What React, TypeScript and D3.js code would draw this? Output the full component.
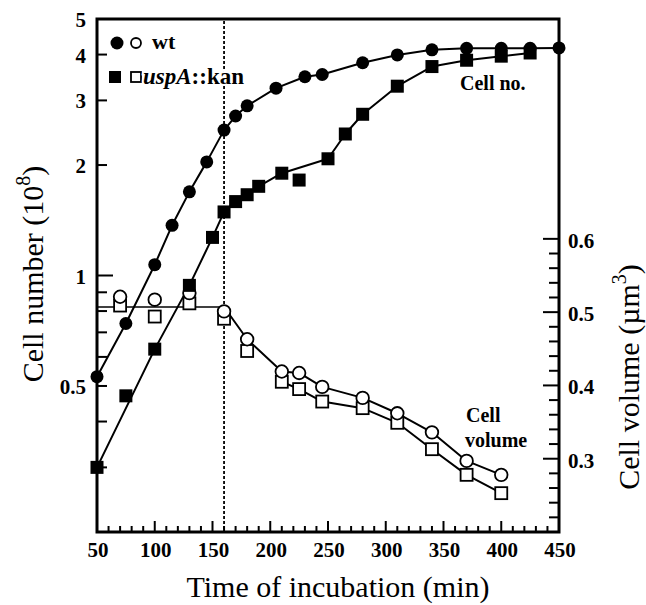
import React, { useEffect, useRef } from 'react'
import * as d3 from 'd3'

// cell number (10^8), log scale
const wtTimes = [50, 75, 100, 115, 130, 145, 160, 170, 180, 205, 230, 245, 280, 310, 340, 370, 400, 425, 450]
const wtCells = [0.53, 0.74, 1.07, 1.37, 1.69, 2.04, 2.49, 2.72, 2.9, 3.24, 3.48, 3.53, 3.8, 3.99, 4.12, 4.16, 4.16, 4.16, 4.17]
const mutTimes = [50, 75, 100, 130, 150, 160, 170, 180, 190, 210, 225, 250, 265, 280, 310, 340, 370, 400, 425]
const mutCells = [0.3, 0.47, 0.63, 0.94, 1.27, 1.49, 1.59, 1.66, 1.75, 1.9, 1.82, 2.08, 2.43, 2.75, 3.28, 3.71, 3.86, 3.96, 4.04]
const mutOffCurve = [75, 225]

// cell volume (um^3)
const volTimes = [70, 100, 130, 160, 180, 210, 225, 245, 280, 310, 340, 370, 400]
const wtVolume = [0.521, 0.517, 0.526, 0.501, 0.463, 0.419, 0.417, 0.398, 0.383, 0.362, 0.336, 0.297, 0.278]
const mutVolume = [0.509, 0.494, 0.512, 0.491, 0.447, 0.405, 0.395, 0.378, 0.369, 0.349, 0.313, 0.278, 0.253]
const plateauVolume = 0.507
const plateauTimes = [50, 160]
const mutVolLineFrom = 210
const shiftTime = 160

const xTicks = [50, 100, 150, 200, 250, 300, 350, 400, 450]
const cellTicks = [0.5, 1, 2, 3, 4, 5]
const cellMinor = [0.3, 0.4, 0.6, 0.7, 0.8, 0.9]
const volTicks = [0.3, 0.4, 0.5, 0.6]

const FONT = 'Liberation Serif, Times New Roman, Times, DejaVu Serif, serif'

export default function App() {
  const ref = useRef<SVGSVGElement>(null)

  useEffect(() => {
    const svg = d3.select(ref.current)
    svg.selectAll('*').remove()

    const left = 97, right = 559, top = 19, bottom = 532

    const x = d3.scaleLinear().domain([50, 450]).range([left, right])
    const yN = d3.scaleLog().domain([0.2, 5]).range([bottom, top])
    const yV = d3.scaleLinear().domain([0.2, 0.9]).range([bottom, top])

    const axes = svg.append('g').attr('stroke', '#000').attr('fill', 'none')

    // frame
    axes.append('rect')
      .attr('x', left).attr('y', top)
      .attr('width', right - left).attr('height', bottom - top)
      .attr('stroke-width', 3)

    // x ticks (inward)
    d3.range(60, 450, 10).forEach(t => {
      const major = t % 50 === 0
      axes.append('line')
        .attr('x1', x(t)).attr('x2', x(t))
        .attr('y1', bottom).attr('y2', bottom - (major ? 11 : 6))
        .attr('stroke-width', 2)
    })

    // left ticks
    cellTicks.concat(cellMinor).filter(v => v < 5).forEach(v => {
      axes.append('line')
        .attr('x1', left).attr('x2', left + (v === 1 ? 16 : 10))
        .attr('y1', yN(v)).attr('y2', yN(v))
        .attr('stroke-width', 2)
    })

    // right ticks
    d3.range(11, 31).map(i => i * 0.02).forEach(v => {
      const major = Math.abs(v * 10 - Math.round(v * 10)) < 1e-6
      axes.append('line')
        .attr('x1', right).attr('x2', right - (major ? 16 : 10))
        .attr('y1', yV(v)).attr('y2', yV(v))
        .attr('stroke-width', 2)
    })

    const txt = svg.append('g')
      .style('font-family', FONT)
      .attr('font-weight', 'bold')
      .attr('font-size', 21)
      .attr('fill', '#000')

    xTicks.forEach(t => {
      txt.append('text')
        .attr('x', x(t) + 1).attr('y', 557)
        .attr('text-anchor', 'middle')
        .text(t)
    })
    cellTicks.forEach(v => {
      txt.append('text')
        .attr('x', left - 11).attr('y', yN(v) + 8)
        .attr('text-anchor', 'end')
        .text(v)
    })
    volTicks.forEach(v => {
      txt.append('text')
        .attr('x', right + 9).attr('y', yV(v) + 9)
        .text(v.toFixed(1))
    })

    // axis titles
    const titles = svg.append('g')
      .style('font-family', FONT)
      .attr('font-size', 30)
      .attr('fill', '#000')

    titles.append('text')
      .attr('x', 338).attr('y', 597)
      .attr('text-anchor', 'middle')
      .text('Time of incubation (min)')

    const lt = titles.append('text')
      .attr('transform', 'translate(43,274) rotate(-90)')
      .attr('text-anchor', 'middle')
    lt.append('tspan').text('Cell number (10')
    lt.append('tspan').attr('dy', -13).attr('font-size', 20).text('8')
    lt.append('tspan').attr('dy', 13).text(')')

    const rt = titles.append('text')
      .attr('transform', 'translate(639,377) rotate(-90)')
      .attr('text-anchor', 'middle')
    rt.append('tspan').text('Cell volume (\u00b5m')
    rt.append('tspan').attr('dy', -13).attr('font-size', 20).text('3')
    rt.append('tspan').attr('dy', 13).text(')')

    // shift line
    svg.append('line')
      .attr('x1', x(shiftTime)).attr('x2', x(shiftTime))
      .attr('y1', top + 2).attr('y2', bottom)
      .attr('stroke', '#000')
      .attr('stroke-width', 1.8)
      .attr('stroke-dasharray', '3,2')

    const plot = svg.append('g')

    const cellLine = d3.line<[number, number]>()
      .x(d => x(d[0]))
      .y(d => yN(d[1]))
    const volLine = d3.line<[number, number]>()
      .x(d => x(d[0]))
      .y(d => yV(d[1]))

    const wtPts: [number, number][] = wtTimes.map((t, i) => [t, wtCells[i]])
    const mutPts: [number, number][] = mutTimes.map((t, i) => [t, mutCells[i]])
    const mutCurve = mutPts.filter(p => !mutOffCurve.includes(p[0]))

    const wtVolPts: [number, number][] = volTimes.map((t, i) => [t, wtVolume[i]])
    const mutVolPts: [number, number][] = volTimes.map((t, i) => [t, mutVolume[i]])

    const plateau: [number, number][] = plateauTimes.map(t => [t, plateauVolume])
    const wtVolCurve = [plateau[1]].concat(wtVolPts.filter(p => p[0] > shiftTime))
    const mutVolCurve = mutVolPts.filter(p => p[0] >= mutVolLineFrom)

    const lineStyle = (sel: any, w: number) => sel
      .attr('fill', 'none').attr('stroke', '#000')
      .attr('stroke-width', w).attr('stroke-linejoin', 'round')

    plot.append('path').attr('d', volLine(plateau)).call(lineStyle, 1.6)
    plot.append('path').attr('d', volLine(wtVolCurve)).call(lineStyle, 2)
    plot.append('path').attr('d', volLine(mutVolCurve)).call(lineStyle, 2)
    plot.append('path').attr('d', cellLine(wtPts)).call(lineStyle, 2)
    plot.append('path').attr('d', cellLine(mutCurve)).call(lineStyle, 2)

    // open markers (volume)
    plot.selectAll('.vsq')
      .data(mutVolPts)
      .enter()
      .append('rect')
        .attr('x', d => x(d[0]) - 6)
        .attr('y', d => yV(d[1]) - 6)
        .attr('width', 12).attr('height', 12)
        .attr('fill', '#fff').attr('stroke', '#000').attr('stroke-width', 1.8)
    plot.selectAll('.vci')
      .data(wtVolPts)
      .enter()
      .append('circle')
        .attr('cx', d => x(d[0]))
        .attr('cy', d => yV(d[1]))
        .attr('r', 6.3)
        .attr('fill', '#fff').attr('stroke', '#000').attr('stroke-width', 1.8)

    // filled markers (cell number)
    plot.selectAll('.nsq')
      .data(mutPts)
      .enter()
      .append('rect')
        .attr('x', d => x(d[0]) - 6.5)
        .attr('y', d => yN(d[1]) - 6.5)
        .attr('width', 13).attr('height', 13)
        .attr('fill', '#000')
    plot.selectAll('.nci')
      .data(wtPts)
      .enter()
      .append('circle')
        .attr('cx', d => x(d[0]))
        .attr('cy', d => yN(d[1]))
        .attr('r', 6.5)
        .attr('fill', '#000')

    // legend (drawn last, white halo breaks the dotted line)
    const leg = svg.append('g')
    leg.append('circle').attr('cx', 117).attr('cy', 43).attr('r', 6.5).attr('fill', '#000')
    leg.append('circle').attr('cx', 136).attr('cy', 43).attr('r', 5)
      .attr('fill', '#fff').attr('stroke', '#000').attr('stroke-width', 1.8)
    leg.append('rect').attr('x', 109).attr('y', 71).attr('width', 12).attr('height', 12).attr('fill', '#000')
    leg.append('rect').attr('x', 131).attr('y', 72).attr('width', 10).attr('height', 10)
      .attr('fill', '#fff').attr('stroke', '#000').attr('stroke-width', 1.8)

    const legTxt = leg.append('g')
      .style('font-family', FONT)
      .attr('font-weight', 'bold')
      .attr('font-size', 23)
      .attr('fill', '#000')
      .attr('stroke', '#fff')
      .attr('stroke-width', 4)
      .attr('paint-order', 'stroke')
    legTxt.append('text').attr('x', 152).attr('y', 49).attr('font-size', 22).text('wt')
    const mt = legTxt.append('text').attr('x', 143).attr('y', 84)
    mt.append('tspan').attr('font-style', 'italic').text('uspA')
    mt.append('tspan').text('::kan')

    // annotations
    txt.append('text').attr('x', 460).attr('y', 90).attr('font-size', 20).text('Cell no.')
    txt.append('text').attr('x', 466).attr('y', 422).attr('font-size', 20).text('Cell')
    txt.append('text').attr('x', 465).attr('y', 447).attr('font-size', 20).text('volume')
  }, [])

  return (
    <svg
      ref={ref}
      width={646}
      height={605}
      style={{ position: 'absolute', left: 0, top: 0, background: '#fff' }}
    />
  )
}
